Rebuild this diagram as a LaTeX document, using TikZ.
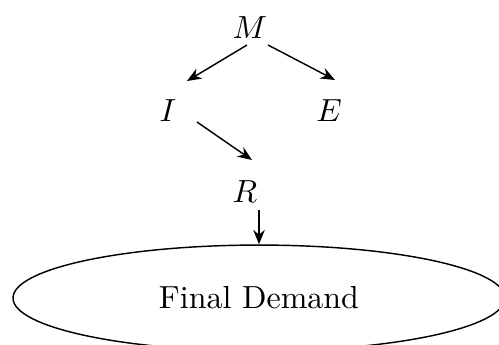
\documentclass[tikz,border=0pt]{standalone}
\usetikzlibrary{arrows.meta,shapes.geometric}
\begin{document}
\begin{tikzpicture}[x=0.3125pt,y=-0.3125pt,
  lbl/.style={inner sep=0pt},
  arr/.style={-{Stealth[length=4.5pt,width=3.6pt]},line width=0.45pt}]
\useasboundingbox (0,0) rectangle (499,344);
\clip (0,0) rectangle (499,344);
\node[lbl] (M) at (250,28) {$M$};
\node[lbl] (I) at (168,111) {$I$};
\node[lbl] (E) at (329,111) {$E$};
\node[lbl] (R) at (245,192) {$R$};
\node[draw,ellipse,line width=0.45pt,inner sep=0pt,
      minimum width=153.75pt,minimum height=33.1pt] (FD) at (259,298) {Final Demand};
\draw[arr] ([shift={(-3,17)}]M.center) -- ([shift={(19,-30)}]I.center);
\draw[arr] ([shift={(18,17)}]M.center) -- ([shift={(6,-31)}]E.center);
\draw[arr] ([shift={(29,11)}]I.center) -- ([shift={(7,-32)}]R.center);
\draw[arr] ([shift={(14,18)}]R.center) -- (FD.north);
\end{tikzpicture}
\end{document}
